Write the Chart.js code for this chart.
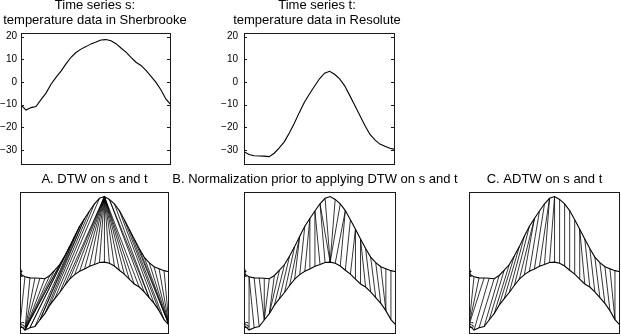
<!DOCTYPE html>
<html>
<head>
<meta charset="utf-8">
<script src="https://cdn.jsdelivr.net/npm/chart.js@4"></script>
<style>
  html, body { margin: 0; padding: 0; background: #fff; overflow: hidden; }
  body { width: 621px; height: 334px; position: relative; }
  canvas { position: absolute; }
</style>
</head>
<body>
<canvas id="serie-s" width="190" height="167" style="left:0;top:-2px"></canvas>
<canvas id="serie-t" width="206" height="167" style="left:214px;top:-2px"></canvas>
<canvas id="grafico-dtw" width="149" height="164" style="left:20px;top:170px"></canvas>
<canvas id="grafico-norm" width="290" height="164" style="left:170px;top:170px"></canvas>
<canvas id="grafico-adtw" width="151" height="164" style="left:469px;top:170px"></canvas>
<script>
// ---------------- DATI ----------------
// temperature (31 campioni lungo l'anno)
var sherbrooke = [-10.1, -12.4, -11.3, -10.8, -7.8, -4.9, -1.0, 2.0, 4.8, 8.0, 10.9, 13.0, 14.5, 15.6, 16.8, 17.6,
                  18.5, 18.7, 18.2, 16.9, 15.0, 13.2, 10.9, 8.7, 7.3, 5.1, 2.5, -0.2, -3.5, -7.6, -10.1];
var resolute = [-30.7, -32.0, -32.5, -32.6, -32.7, -32.9, -31.4, -29.0, -26.4, -22.5, -18.2, -13.4, -8.9, -5.3, -1.9, 1.4,
                3.9, 4.7, 3.4, 1.4, -1.7, -5.9, -10.3, -14.7, -19.1, -23.0, -25.5, -27.4, -28.3, -29.2, -29.7];
var tickTemperatura = [20, 10, 0, -10, -20, -30];
var spostamentoT = 44; // t disegnata sopra s nei grafici in basso

// allineamenti: indice in s -> indice in t
var dtwS = [0, 0, 1, 1, 1, 1, 1, 1, 1, 1, 2, 2, 3, 4, 4, 5, 6, 7, 8, 9, 10, 11, 12, 13, 14, 15, 16, 17, 18, 19, 20, 21, 22, 23, 24,
            25, 26, 26, 27, 28, 29, 30, 30, 30, 30, 30, 30, 30, 30];
var dtwT = [0, 1, 2, 3, 4, 5, 6, 7, 8, 9, 10, 11, 12, 12, 13, 13, 14, 15, 16, 17, 17, 17, 17, 17, 17, 17, 17, 17, 17, 17, 17, 17, 17, 17, 17,
            18, 18, 19, 20, 21, 22, 23, 24, 25, 26, 27, 28, 29, 30];
var normS = [0, 1, 2, 3, 4, 4, 4, 5, 5, 6, 7, 8, 9, 10, 11, 12, 13, 14, 15, 16, 17, 17, 17, 17, 18, 19, 20, 21, 22, 23, 24, 25, 26, 27, 28, 28, 29, 30];
var normT = [0, 1, 1, 2, 3, 4, 5, 6, 7, 8, 9, 10, 11, 11, 12, 13, 13, 14, 14, 15, 15, 16, 18, 19, 20, 20, 21, 22, 22, 23, 23, 24, 25, 26, 27, 28, 29, 30];
var adtwS = [0, 0, 0, 0, 1, 2, 3, 4, 5, 6, 7, 8, 9, 10, 11, 12, 13, 14, 15, 16, 17, 18, 19, 20, 21, 22, 23, 24, 25, 26, 27, 28, 29, 29, 30];
var adtwT = [0, 1, 2, 3, 4, 5, 6, 7, 8, 9, 10, 11, 12, 13, 13, 14, 15, 16, 16, 17, 17, 18, 19, 20, 21, 22, 22, 23, 24, 25, 26, 27, 28, 29, 30];

Chart.defaults.font.family = "'Liberation Sans', Arial, Helvetica, sans-serif";
Chart.defaults.color = '#000';

// ---------------- FUNZIONI ----------------
function punti(valori, spostamento) {
    var pts = [];
    for (var i = 0; i < valori.length; i++) {
        pts.push({x: i, y: valori[i] + spostamento});
    }
    return pts;
}

function linee(indiciS, indiciT) {
    var pts = [];
    for (var k = 0; k < indiciS.length; k++) {
        pts.push({x: indiciS[k], y: sherbrooke[indiciS[k]]});
        pts.push({x: indiciT[k], y: resolute[indiciT[k]] + spostamentoT});
        pts.push({x: indiciT[k], y: null});
    }
    return pts;
}

function larghezza(w) {
    return function(scale) {
        scale.width = w;
        scale.paddingTop = 0;
        scale.paddingBottom = 0;
    };
}

// riquadro + tick interni
var cornice = {
    id: 'cornice',
    afterDraw: function(chart, args, opts) {
        var a = chart.chartArea;
        var ctx = chart.ctx;
        ctx.save();
        ctx.strokeStyle = '#1a1a1a';
        ctx.lineWidth = 1;
        ctx.strokeRect(a.left + 0.5, a.top + 0.5, a.right - a.left - 1, a.bottom - a.top - 1);
        if (opts.tick) {
            var y = chart.scales.y;
            y.ticks.forEach(function(t) {
                var py = Math.round(y.getPixelForValue(t.value)) + 0.5;
                ctx.beginPath();
                ctx.moveTo(a.left, py); ctx.lineTo(a.left + 3, py);
                ctx.moveTo(a.right - 1, py); ctx.lineTo(a.right - 4, py);
                ctx.stroke();
            });
        }
        if (opts.etichette) {
            ctx.fillStyle = '#000';
            ctx.font = "10px 'Liberation Sans', Arial, sans-serif";
            ctx.textAlign = 'left';
            ctx.textBaseline = 'middle';
            var ps = chart.getDatasetMeta(1).data[0];
            var pt = chart.getDatasetMeta(2).data[0];
            ctx.fillText('s', ps.x, ps.y);
            ctx.fillText('t', pt.x, pt.y);
        }
        ctx.restore();
    }
};

function graficoSerie(id, valori, titolo, asse, destra, pad) {
    new Chart(document.getElementById(id), {
        type: 'line',
        data: {
            datasets: [{
                data: punti(valori, 0),
                borderColor: '#000',
                borderWidth: 1.1,
                pointRadius: 0,
                tension: 0
            }]
        },
        options: {
            responsive: false,
            animation: false,
            layout: {padding: 0},
            plugins: {
                legend: {display: false},
                tooltip: {enabled: false},
                title: {
                    display: true,
                    text: titolo,
                    color: '#000',
                    font: {size: 13, weight: 'normal', lineHeight: 1.154},
                    padding: {top: 0, bottom: 5}
                },
                cornice: {tick: true}
            },
            scales: {
                x: {type: 'linear', min: 0, max: 30, display: false},
                y: {
                    min: -36.6,
                    max: 21.6,
                    afterFit: larghezza(asse),
                    afterBuildTicks: function(scale) {
                        scale.ticks = tickTemperatura.map(function(v) { return {value: v}; });
                    },
                    ticks: {
                        padding: pad,
                        color: '#000',
                        font: {size: 10},
                        callback: function(v) { return String(v).replace('-', '\u2212'); }
                    },
                    grid: {display: false, drawTicks: false},
                    border: {display: false}
                },
                y2: {
                    position: 'right',
                    afterFit: larghezza(destra),
                    ticks: {display: false},
                    grid: {display: false, drawTicks: false},
                    border: {display: false}
                }
            }
        },
        plugins: [cornice]
    });
}

function graficoAllineamento(id, titolo, indiciS, indiciT, sinistra, destra) {
    var scales = {
        x: {type: 'linear', min: 0, max: 30, display: false},
        y: {min: -14.2, max: 50.8, display: false}
    };
    if (sinistra) {
        scales.y = {
            min: -14.2, max: 50.8,
            afterFit: larghezza(sinistra),
            ticks: {display: false},
            grid: {display: false, drawTicks: false},
            border: {display: false}
        };
        scales.y2 = {
            position: 'right',
            afterFit: larghezza(destra),
            ticks: {display: false},
            grid: {display: false, drawTicks: false},
            border: {display: false}
        };
    }
    new Chart(document.getElementById(id), {
        type: 'line',
        data: {
            datasets: [{
                data: linee(indiciS, indiciT),
                borderColor: '#000',
                borderWidth: 0.8,
                pointRadius: 0,
                spanGaps: false
            }, {
                data: punti(sherbrooke, 0),
                borderColor: '#000',
                borderWidth: 1.1,
                pointRadius: 0
            }, {
                data: punti(resolute, spostamentoT),
                borderColor: '#000',
                borderWidth: 1.1,
                pointRadius: 0
            }]
        },
        options: {
            responsive: false,
            animation: false,
            layout: {padding: 0},
            plugins: {
                legend: {display: false},
                tooltip: {enabled: false},
                title: {
                    display: true,
                    text: titolo,
                    color: '#000',
                    font: {size: 13, weight: 'normal', lineHeight: 1.154},
                    padding: {top: 2, bottom: 5}
                },
                cornice: {etichette: true}
            },
            scales: scales
        },
        plugins: [cornice]
    });
}

graficoSerie('serie-s', sherbrooke, ['Time series s:', 'temperature data in Sherbrooke'], 21, 19, 4);
graficoSerie('serie-t', resolute, ['Time series t:', 'temperature data in Resolute'], 30, 25, 6);
graficoAllineamento('grafico-dtw', 'A. DTW on s and t', dtwS, dtwT);
graficoAllineamento('grafico-norm', 'B. Normalization prior to applying DTW on s and t', normS, normT, 74, 64);
graficoAllineamento('grafico-adtw', 'C. ADTW on s and t', adtwS, adtwT);
</script>
</body>
</html>
